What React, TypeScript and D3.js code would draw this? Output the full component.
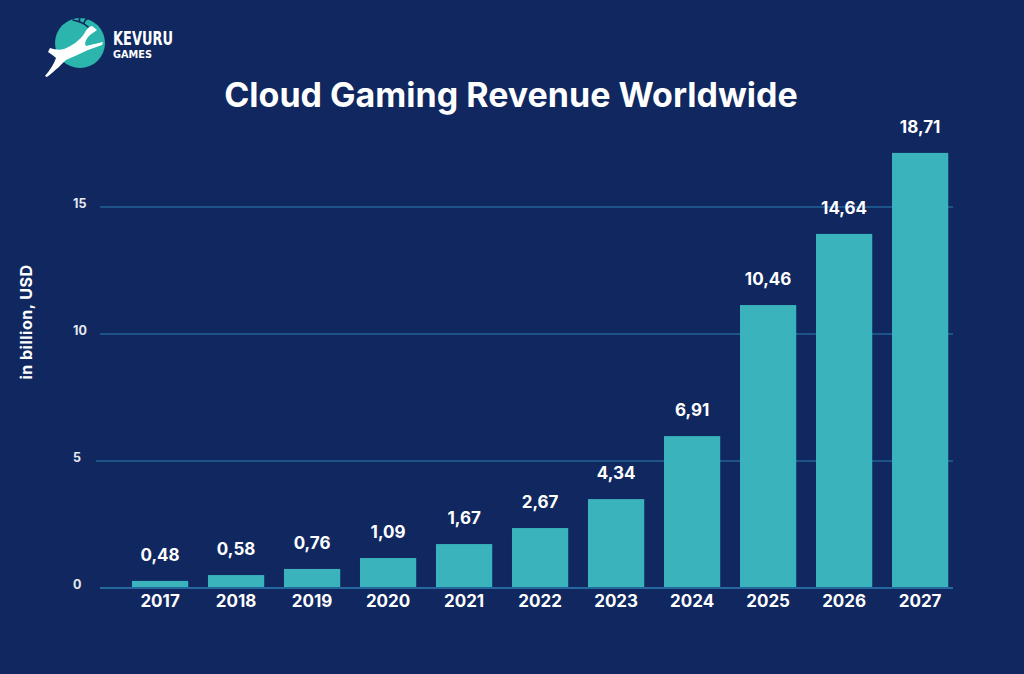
import React from "react";
import * as d3 from "d3";

const years = ["2017", "2018", "2019", "2020", "2021", "2022", "2023", "2024", "2025", "2026", "2027"];
// bar heights as drawn in the picture (billion USD)
const barValues = [0.28, 0.51, 0.75, 1.18, 1.73, 2.36, 3.5, 5.98, 11.14, 13.94, 17.13];
// value labels as printed
const valueLabels = ["0,48", "0,58", "0,76", "1,09", "1,67", "2,67", "4,34", "6,91", "10,46", "14,64", "18,71"];
const yTicks = [0, 5, 10, 15];

const W = 1024;
const H = 674;
const BG = "#10285f";
const BAR = "#3ab3bd";
const GRID = "#2d7fb4";
const FONT = "Inter, 'Open Sans', sans-serif";

export default function App() {
  const x = d3.scaleBand<string>().domain(years).range([112.2, 968]).padding(0.26);
  const y = d3.scaleLinear().domain([0, 15]).range([588, 207]);

  return (
    <svg width={W} height={H} style={{ position: "absolute", left: 0, top: 0, display: "block" }}>
      <rect x={0} y={0} width={W} height={H} fill={BG} />

      {/* logo */}
      <g>
        <circle cx={80} cy={43} r={25} fill="#2bb5ad" />
        <path
          d="M92,26 L97,30 L90,35 C86,39 84,43 86,46 L103,42 L102,45 L88,50 C80,54 72,57 66,60 C62,64 56,70 47,77 L45,76 C50,70 54,64 56,58 C54,56 51,54 48,52 L50,48 C56,50 60,50 64,49 C72,46 80,40 84,34 C86,30 88,27 92,26 Z"
          fill="#ffffff"
        />
        <path d="M88,27 C84,23 78,21 73,20 M84,24 C84,21 86,19 89,18 M80,22 C79,20 79,19 80,18" stroke={BG} strokeWidth={1.6} fill="none" strokeLinecap="round" />
        <text x={113} y={45} fill="#ffffff" fontFamily="'DejaVu Sans Condensed', 'Liberation Sans Narrow', sans-serif" fontWeight={700} fontSize={20} textLength={60} lengthAdjust="spacingAndGlyphs">KEVURU</text>
        <text x={113} y={58} fill="#ffffff" fontFamily="'DejaVu Sans Condensed', sans-serif" fontWeight={700} fontSize={10} textLength={39} lengthAdjust="spacingAndGlyphs">GAMES</text>
      </g>

      <text x={511} y={107} textAnchor="middle" fill="#ffffff" fontFamily={FONT} fontWeight={700} fontSize={34}>
        Cloud Gaming Revenue Worldwide
      </text>

      {/* gridlines */}
      {yTicks.map((t) => (
        <g key={t}>
          <line x1={t === 5 ? 96 : 100} x2={953} y1={y(t)} y2={y(t)} stroke={GRID} strokeWidth={1.2} />
          <text x={73} y={y(t) + 1} fill="#e6e9f0" fontFamily={FONT} fontWeight={700} fontSize={12.5}>
            {t}
          </text>
        </g>
      ))}

      <text
        transform={`translate(32,322) rotate(-90)`}
        textAnchor="middle"
        fill="#ffffff"
        fontFamily={FONT}
        fontWeight={700}
        fontSize={16}
        letterSpacing={0.5}
      >
        in billion, USD
      </text>

      {years.map((yr, i) => (
        <g key={yr}>
          <rect x={x(yr)} y={y(barValues[i])} width={x.bandwidth()} height={y(0) - y(barValues[i]) - 1} fill={BAR} />
          <text
            x={(x(yr) as number) + x.bandwidth() / 2}
            y={y(barValues[i]) - 20}
            textAnchor="middle"
            fill="#ffffff"
            fontFamily={FONT}
            fontWeight={700}
            fontSize={17}
          >
            {valueLabels[i]}
          </text>
          <text
            x={(x(yr) as number) + x.bandwidth() / 2}
            y={607}
            textAnchor="middle"
            fill="#ffffff"
            fontFamily={FONT}
            fontWeight={700}
            fontSize={17}
          >
            {yr}
          </text>
        </g>
      ))}
      <line x1={100} x2={953} y1={y(0)} y2={y(0)} stroke={GRID} strokeWidth={1.2} />
    </svg>
  );
}
